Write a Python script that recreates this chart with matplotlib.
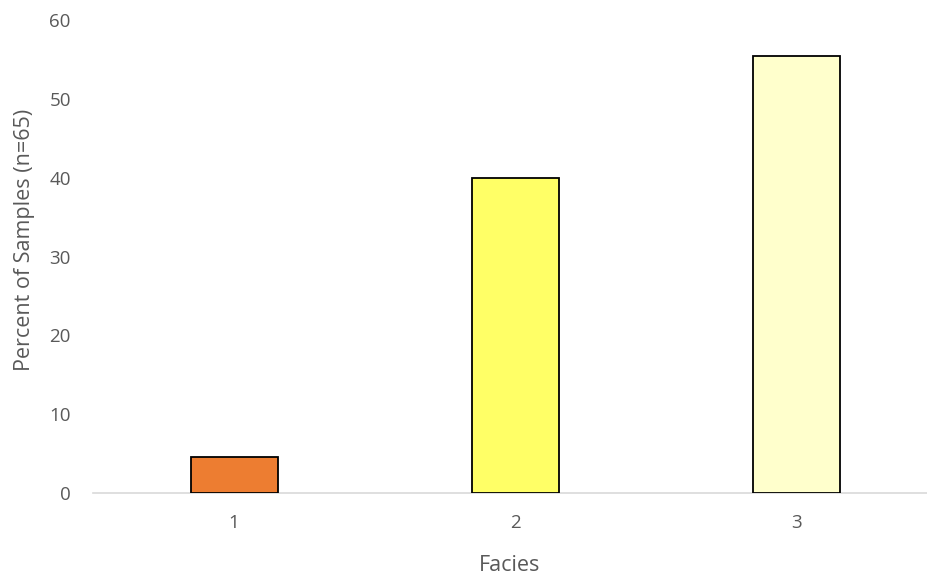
import matplotlib.pyplot as plt

facies = ["1", "2", "3"]
percent = [3 / 65 * 100, 26 / 65 * 100, 36 / 65 * 100]
colors = ["#ED7D31", "#FFFF66", "#FFFFCC"]

plt.rcParams['font.family'] = ['Open Sans', 'DejaVu Sans']

fig = plt.figure(figsize=(9.27, 5.75), dpi=100)
ax = fig.add_axes([93 / 927, 82 / 575, 834 / 927, 473 / 575])

positions = [1, 2, 3]
ax.bar(positions, percent, width=0.31, color=colors, edgecolor="black", linewidth=1.3, zorder=3)

ax.set_xlim(0.498, 3.466)
ax.set_ylim(0, 60)
ax.set_yticks(range(0, 61, 10))
ax.set_xticks(positions)
ax.set_xticklabels(facies)

for side in ["top", "right", "left"]:
    ax.spines[side].set_visible(False)
ax.spines["bottom"].set_color("#D9D9D9")
ax.spines["bottom"].set_linewidth(1.2)

ax.tick_params(axis="both", length=0, labelsize=13.5, labelcolor="#595959")
ax.tick_params(axis="y", pad=16)
ax.tick_params(axis="x", pad=15)

ax.set_ylabel("Percent of Samples (n=65)", fontsize=15.5, color="#595959")
ax.yaxis.set_label_coords(-0.07, 0.535)
ax.set_xlabel("Facies", fontsize=15.5, color="#595959", labelpad=17)

fig.savefig("out.png", dpi=100)
